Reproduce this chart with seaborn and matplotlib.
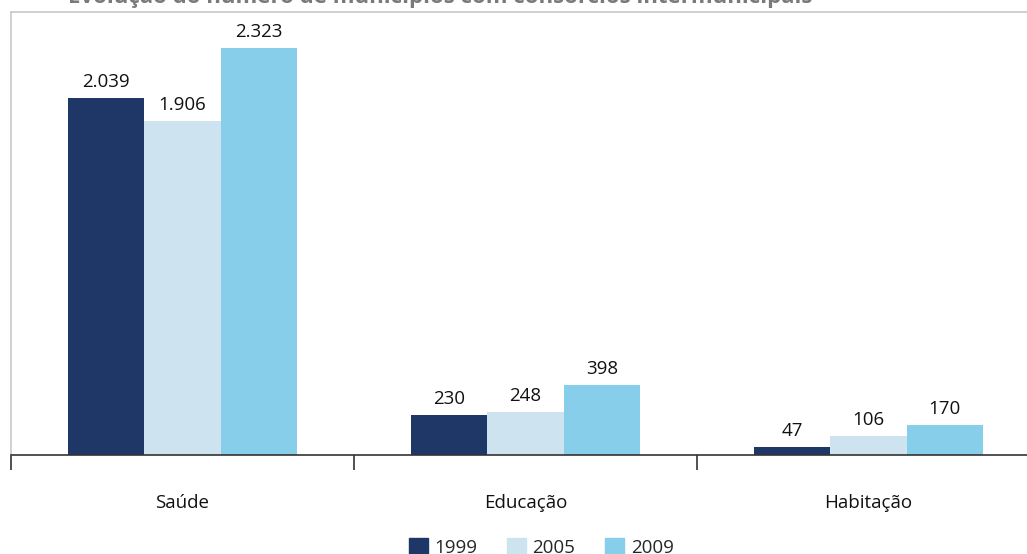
import pandas as pd
import matplotlib.pyplot as plt
import seaborn as sns

categories = ['Saúde', 'Educação', 'Habitação']
years = ['1999', '2005', '2009']
values_1999 = [2039, 230, 47]
values_2005 = [1906, 248, 106]
values_2009 = [2323, 398, 170]
colors = ['#1f3767', '#cde4f0', '#87ceeb']
title = 'Evolução do número de municípios com consórcios intermunicipais'

sns.set_style("white")
plt.rcParams['font.family'] = ['Open Sans', 'DejaVu Sans']

rows = []
for year, vals in zip(years, [values_1999, values_2005, values_2009]):
    for cat, v in zip(categories, vals):
        rows.append({'Area': cat, 'Ano': year, 'Municipios': v})
df = pd.DataFrame(rows)

fig = plt.figure(figsize=(10.27, 5.54), dpi=100)
ax = fig.add_axes([11 / 1027, 99 / 554, 1029 / 1027, 443 / 554])

sns.barplot(data=df, x='Area', y='Municipios', hue='Ano', order=categories,
            hue_order=years, palette=colors, width=0.667, gap=0,
            saturation=1, linewidth=0, ax=ax, legend=False)

for cont in ax.containers:
    labels = [f"{int(b.get_height()):,}".replace(',', '.') for b in cont]
    ax.bar_label(cont, labels=labels, padding=5, fontsize=13.5, color='#111111')

ax.set_xlim(-0.5, 2.5)
ax.set_ylim(0, 2528)
ax.set_yticks([])
ax.set_xlabel('')
ax.set_ylabel('')

# category boundary ticks and centered labels
ax.set_xticks([-0.5, 0.5, 1.5])
ax.set_xticklabels([])
ax.tick_params(axis='x', which='major', bottom=True, length=11, width=1.2,
               color='#333333', direction='out')
ax.set_xticks([0, 1, 2], minor=True)
ax.set_xticklabels(categories, minor=True, fontsize=13.5, color='#111111')
ax.tick_params(axis='x', which='minor', bottom=True, length=0, pad=28)

for side in ['left', 'top']:
    ax.spines[side].set_color('#c8c8c8')
    ax.spines[side].set_linewidth(1.2)
ax.spines['right'].set_visible(False)
ax.spines['bottom'].set_color('#333333')
ax.spines['bottom'].set_linewidth(1.2)

handles = [plt.Rectangle((0, 0), 1, 1, color=c) for c in colors]
fig.legend(handles, years, loc='lower center', bbox_to_anchor=(0.527, -0.036),
           ncol=3, frameon=False, fontsize=13.5, handlelength=1.0, handleheight=1.0,
           handletextpad=0.35, columnspacing=1.6)

fig.text(68 / 1027, 1 - 3 / 554, title, fontsize=16, fontweight='bold',
         color='#7a7a7a', va='baseline', ha='left')

fig.savefig('out.png', dpi=100)
